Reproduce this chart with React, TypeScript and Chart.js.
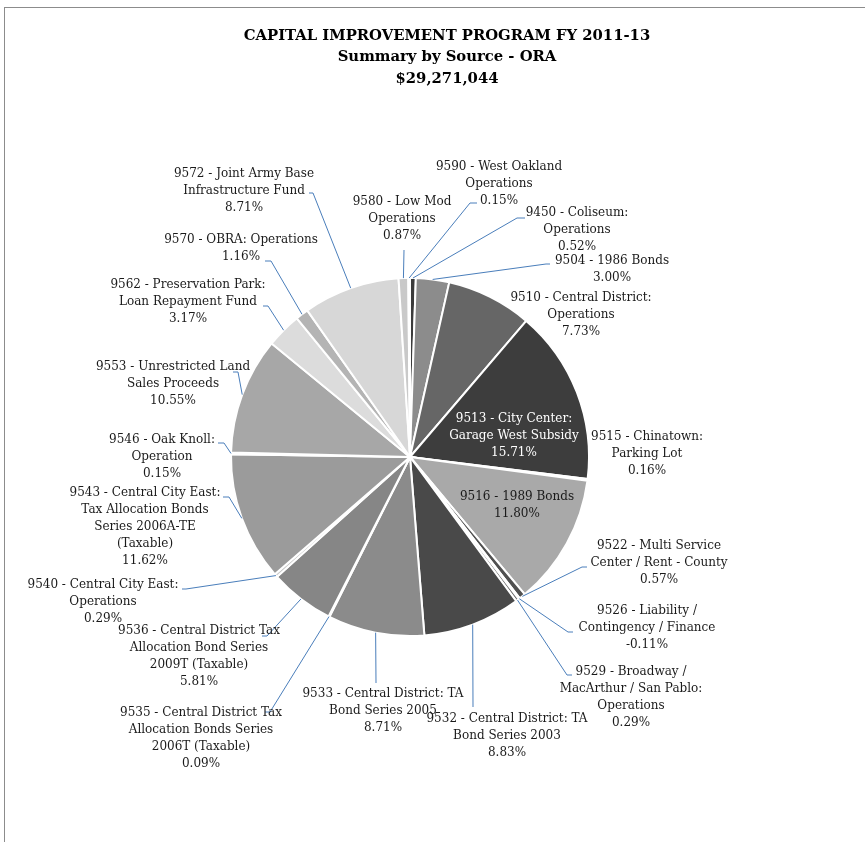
import React, { useEffect, useRef } from "react";
import { Chart, registerables } from "chart.js";

Chart.register(...registerables);

// ---------- DATA ----------
const titleLines = [
  "CAPITAL IMPROVEMENT PROGRAM FY 2011-13",
  "Summary by Source - ORA",
  "$29,271,044",
];

const fundCodes = [
  "9450", "9504", "9510", "9513", "9515", "9516", "9522", "9526", "9529", "9532", "9533",
  "9535", "9536", "9540", "9543", "9546", "9553", "9562", "9570", "9572", "9580", "9590",
];

// category names, already split into the lines shown in the chart
const fundNames: string[][] = [
  ["Coliseum:", "Operations"],
  ["1986 Bonds"],
  ["Central District:", "Operations"],
  ["City Center:", "Garage West Subsidy"],
  ["Chinatown:", "Parking Lot"],
  ["1989 Bonds"],
  ["Multi Service", "Center / Rent - County"],
  ["Liability /", "Contingency / Finance"],
  ["Broadway /", "MacArthur / San Pablo:", "Operations"],
  ["Central District: TA", "Bond Series 2003"],
  ["Central District: TA", "Bond Series 2005"],
  ["Central District Tax", "Allocation Bonds Series", "2006T (Taxable)"],
  ["Central District Tax", "Allocation Bond Series", "2009T (Taxable)"],
  ["Central City East:", "Operations"],
  ["Central City East:", "Tax Allocation Bonds", "Series 2006A-TE", "(Taxable)"],
  ["Oak Knoll:", "Operation"],
  ["Unrestricted Land", "Sales Proceeds"],
  ["Preservation Park:", "Loan Repayment Fund"],
  ["OBRA: Operations"],
  ["Joint Army Base", "Infrastructure Fund"],
  ["Low Mod", "Operations"],
  ["West Oakland", "Operations"],
];

// share of total (percent)
const shares = [
  0.52, 3.0, 7.73, 15.71, 0.16, 11.8, 0.57, -0.11, 0.29, 8.83, 8.71,
  0.09, 5.81, 0.29, 11.62, 0.15, 10.55, 3.17, 1.16, 8.71, 0.87, 0.15,
];

// ---------- STYLE ----------
const sliceColors = [
  "#3b3b3b", "#8c8c8c", "#666666", "#3d3d3d", "#c4c4c4", "#a9a9a9", "#505050", "#9a9a9a", "#6e6e6e", "#494949", "#8b8b8b",
  "#b0b0b0", "#868686", "#c8c8c8", "#9b9b9b", "#d0d0d0", "#a7a7a7", "#dcdcdc", "#b4b4b4", "#d7d7d7", "#c9c9c9", "#2f2f2f",
];

// ---------- LAYOUT (label centres and leader elbows, in px) ----------
type LabelLayout = { x: number; y: number; color?: string; leader?: number[][] };
const labelLayout: LabelLayout[] = [
  { x: 577, y: 213, leader: [[525, 218], [517, 218]] },
  { x: 612, y: 261, leader: [[550, 264], [546, 264]] },
  { x: 581, y: 298 },
  { x: 514, y: 419, color: "#ffffff" },
  { x: 647, y: 437 },
  { x: 517, y: 497 },
  { x: 659, y: 546, leader: [[587, 567], [582, 567]] },
  { x: 647, y: 611, leader: [[573, 632], [568, 632]] },
  { x: 631, y: 672, leader: [[572, 675], [567, 675]] },
  { x: 507, y: 719, leader: [[473, 707]] },
  { x: 383, y: 694, leader: [[376, 683]] },
  { x: 201, y: 713, leader: [[265, 712], [270, 712]] },
  { x: 199, y: 631, leader: [[262, 636], [267, 636]] },
  { x: 103, y: 585, leader: [[182, 589], [186, 589]] },
  { x: 145, y: 493, leader: [[223, 497], [229, 497]] },
  { x: 162, y: 440, leader: [[218, 443], [224, 443]] },
  { x: 173, y: 367, leader: [[233, 372], [238, 372]] },
  { x: 188, y: 285, leader: [[263, 306], [268, 306]] },
  { x: 241, y: 240, leader: [[265, 261], [271, 261]] },
  { x: 244, y: 174, leader: [[309, 193], [313, 193]] },
  { x: 402, y: 202, leader: [[404, 250]] },
  { x: 499, y: 167, leader: [[477, 203], [470, 203]] },
];

const W = 865;
const H = 842;
const LABEL_FONT = '12px "DejaVu Serif"';
const LINE_H = 17;

const labelPlugin = {
  id: "pieLabels",
  beforeDraw(chart: any) {
    const ctx = chart.ctx;
    ctx.save();
    ctx.fillStyle = "#ffffff";
    ctx.fillRect(0, 0, W, H);
    ctx.strokeStyle = "#8c8c8c";
    ctx.lineWidth = 1;
    ctx.strokeRect(4.5, 7.5, W + 20, H + 20);
    ctx.restore();
  },
  afterDatasetsDraw(chart: any) {
    const ctx = chart.ctx;
    const meta = chart.getDatasetMeta(0);
    ctx.save();
    // title
    ctx.fillStyle = "#000000";
    ctx.textAlign = "center";
    ctx.textBaseline = "middle";
    ctx.font = 'bold 14.8px "DejaVu Serif"';
    const titleY = [36, 57, 79];
    titleLines.forEach((t, i) => ctx.fillText(t, 447, titleY[i]));

    // leader lines
    ctx.strokeStyle = "#4a7ebb";
    ctx.lineWidth = 1;
    meta.data.forEach((arc: any, i: number) => {
      const lay = labelLayout[i];
      if (!lay.leader) return;
      const p = arc.getProps(["x", "y", "startAngle", "endAngle", "outerRadius"], true);
      const mid = (p.startAngle + p.endAngle) / 2;
      const ex = p.x + Math.cos(mid) * p.outerRadius;
      const ey = p.y + Math.sin(mid) * p.outerRadius;
      ctx.beginPath();
      lay.leader.forEach((pt, k) => (k === 0 ? ctx.moveTo(pt[0], pt[1]) : ctx.lineTo(pt[0], pt[1])));
      ctx.lineTo(ex, ey);
      ctx.stroke();
    });

    // labels
    ctx.font = LABEL_FONT;
    fundCodes.forEach((code, i) => {
      const lay = labelLayout[i];
      const names = fundNames[i];
      const lines = [code + " - " + names[0], ...names.slice(1), shares[i].toFixed(2) + "%"];
      ctx.fillStyle = lay.color || "#1a1a1a";
      lines.forEach((ln, k) => ctx.fillText(ln, lay.x, lay.y + k * LINE_H));
    });
    ctx.restore();
  },
};

export default function App() {
  const ref = useRef<HTMLCanvasElement | null>(null);
  useEffect(() => {
    if (!ref.current) return;
    const chart = new Chart(ref.current, {
      type: "pie",
      data: {
        labels: fundCodes.map((c, i) => c + " - " + fundNames[i].join(" ")),
        datasets: [
          {
            data: shares,
            backgroundColor: sliceColors,
            borderColor: "#ffffff",
            borderWidth: 2,
            hoverOffset: 0,
          },
        ],
      },
      options: {
        responsive: false,
        maintainAspectRatio: false,
        animation: false,
        radius: 179,
        layout: { padding: { left: 231, right: 276, top: 278, bottom: 206 } },
        plugins: {
          legend: { display: false },
          tooltip: { enabled: false },
          title: { display: false },
        },
      } as any,
      plugins: [labelPlugin],
    });
    return () => chart.destroy();
  }, []);
  return (
    <div style={{ position: "absolute", left: 0, top: 0, width: W, height: H }}>
      <canvas ref={ref} width={W} height={H} style={{ display: "block" }} />
    </div>
  );
}
